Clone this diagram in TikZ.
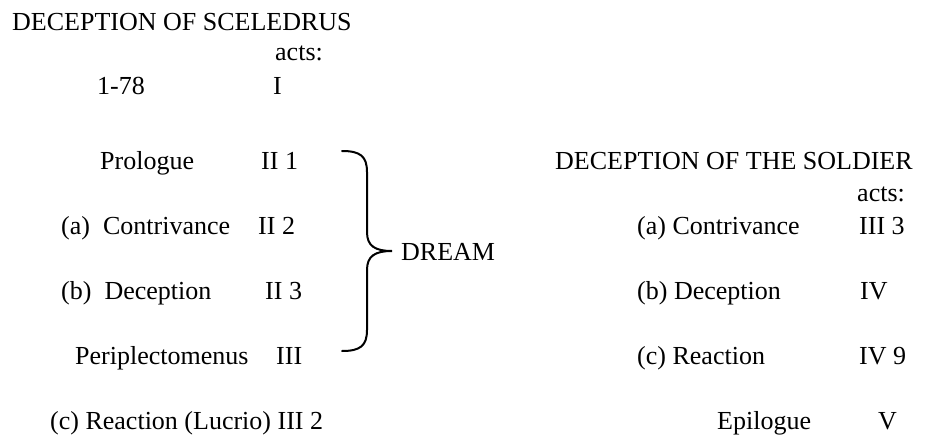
\documentclass[tikz,border=0pt]{standalone}
\usepackage{fontspec}
\setmainfont{Liberation Serif}
\begin{document}
\begin{tikzpicture}[x=1pt,y=-1pt,
  txt/.style={anchor=base west,inner sep=0pt,font=\fontsize{26}{30}\selectfont},
  bracket/.style={line width=2pt,line cap=round}]
\useasboundingbox (0,0) rectangle (925,441);

% left column: deception of Sceledrus
\node[txt] (ltitle) at (12,31) {DECEPTION OF SCELEDRUS};
\node[txt] (lacts)  at (275,61) {acts:};
\node[txt] (lines)  at (97,95) {1-78};
\node[txt] (actI)   at (273,95) {I};
\node[txt] (prol)   at (100,169) {Prologue};
\node[txt] (prolA)  at (261,169) {II 1};
\node[txt] (lcontr) at (61,234) {(a)\ \ Contrivance};
\node[txt] (lcontrA) at (258,234) {II 2};
\node[txt] (ldec)   at (61,299) {(b)\ \ Deception};
\node[txt] (ldecA)  at (265,299) {II 3};
\node[txt] (peri)   at (75,364) {Periplectomenus};
\node[txt] (periA)  at (276,364) {III};
\node[txt] (lreac)  at (50,429) {(c) Reaction (Lucrio) III 2};

% the brace grouping the dream episode
\coordinate (btop) at (342,151);
\coordinate (btip) at (392,251);
\coordinate (bbot) at (342,351);
\draw[bracket] (btop) .. controls (360,151) and (367,156) .. (367,172)
  -- (367,232) .. controls (367,246) and (375,251) .. (btip)
  .. controls (375,251) and (367,256) .. (367,270)
  -- (367,330) .. controls (367,346) and (360,351) .. (bbot);
\node[txt] (dream) at (401,260) {DREAM};

% right column: deception of the soldier
\node[txt] (rtitle) at (555,169) {DECEPTION OF THE SOLDIER};
\node[txt] (racts)  at (857,201) {acts:};
\node[txt] (rcontr) at (637,234) {(a) Contrivance};
\node[txt] (rcontrA) at (859,234) {III 3};
\node[txt] (rdec)   at (637,299) {(b) Deception};
\node[txt] (rdecA)  at (860,299) {IV};
\node[txt] (rreac)  at (637,364) {(c) Reaction};
\node[txt] (rreacA) at (859,364) {IV 9};
\node[txt] (epil)   at (717,429) {Epilogue};
\node[txt] (epilA)  at (878,429) {V};
\end{tikzpicture}
\end{document}
